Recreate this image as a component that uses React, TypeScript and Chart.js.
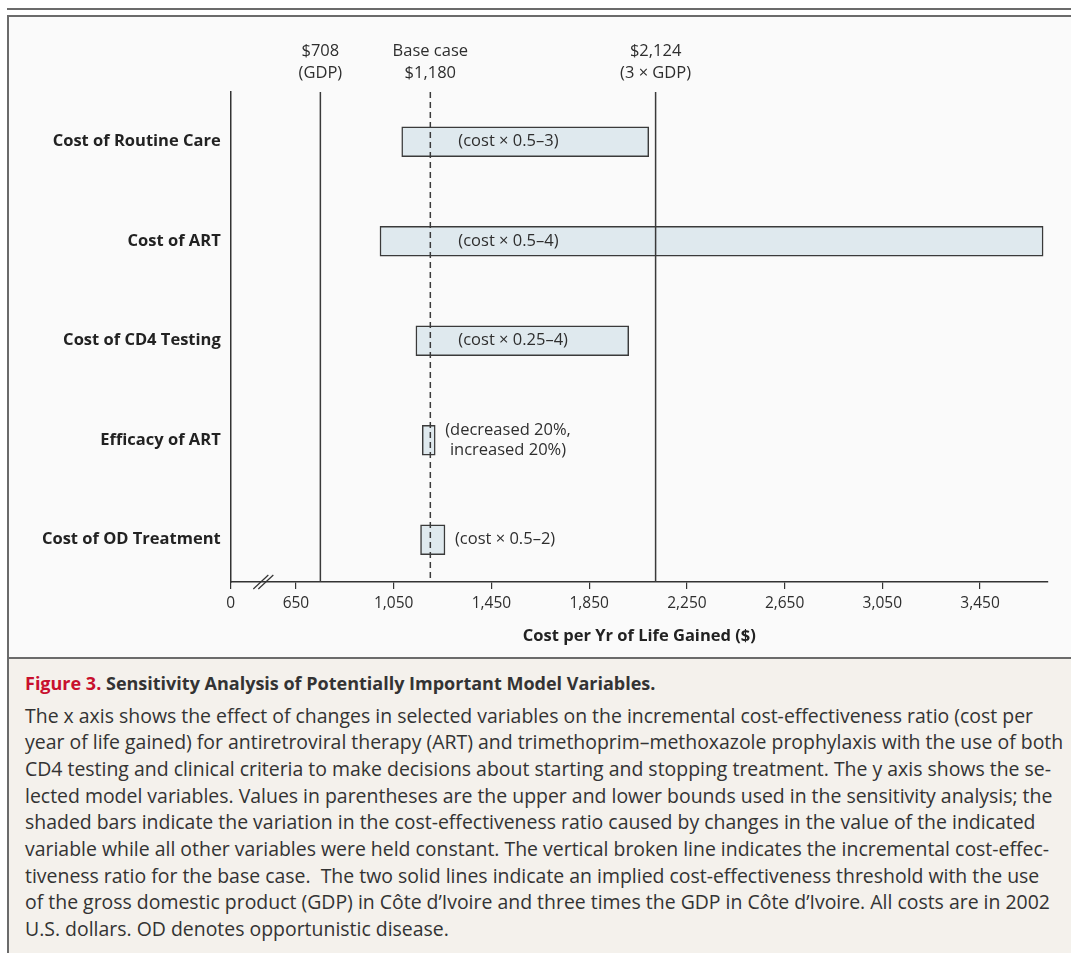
import React, { useEffect, useRef } from 'react';
import { Chart, registerables, LinearScale } from 'chart.js';

// ---------- data ----------
const categories = [
  'Cost of Routine Care',
  'Cost of ART',
  'Cost of CD4 Testing',
  'Efficacy of ART',
  'Cost of OD Treatment',
];
// range of the cost-effectiveness ratio ($ per yr of life gained)
const lowerBounds = [1083, 994, 1141, 1167, 1160];
const upperBounds = [2094, 3708, 2012, 1220, 1260];
const rangeNotes = [
  ['(cost × 0.5–3)'],
  ['(cost × 0.5–4)'],
  ['(cost × 0.25–4)'],
  ['(decreased 20%,', 'increased 20%)'],
  ['(cost × 0.5–2)'],
];
const xTickValues = [0, 650, 1050, 1450, 1850, 2250, 2650, 3050, 3450];
// vertical reference lines (positions as drawn in the figure)
const referenceValues = [750, 1200, 2122];
const referenceKinds = ['threshold', 'base', 'threshold'];
const referenceLabels = [
  ['$708', '(GDP)'],
  ['Base case', '$1,180'],
  ['$2,124', '(3 × GDP)'],
];
const xAxisTitle = 'Cost per Yr of Life Gained ($)';
const captionTitle = 'Figure 3.';
const captionHeading = 'Sensitivity Analysis of Potentially Important Model Variables.';
const captionLines = [
  'The x axis shows the effect of changes in selected variables on the incremental cost-effectiveness ratio (cost per',
  'year of life gained) for antiretroviral therapy (ART) and trimethoprim–methoxazole prophylaxis with the use of both',
  'CD4 testing and clinical criteria to make decisions about starting and stopping treatment. The y axis shows the se-',
  'lected model variables. Values in parentheses are the upper and lower bounds used in the sensitivity analysis; the',
  'shaded bars indicate the variation in the cost-effectiveness ratio caused by changes in the value of the indicated',
  'variable while all other variables were held constant. The vertical broken line indicates the incremental cost-effec-',
  'tiveness ratio for the base case.  The two solid lines indicate an implied cost-effectiveness threshold with the use',
  'of the gross domestic product (GDP) in Côte d’Ivoire and three times the GDP in Côte d’Ivoire. All costs are in 2002',
  'U.S. dollars. OD denotes opportunistic disease.',
];

// ---------- broken x axis (0 … //… 650 … ) ----------
const BREAK_END = 650;
const BREAK_SPAN = 267; // width of the 0–650 segment, in units of the linear part
const X_MAX = 3728;

function toVirtual(v: number) {
  return v >= BREAK_END ? v : BREAK_END - (BREAK_SPAN * (BREAK_END - v)) / BREAK_END;
}
function fromVirtual(w: number) {
  return w >= BREAK_END ? w : BREAK_END - ((BREAK_END - w) * BREAK_END) / BREAK_SPAN;
}

class BrokenLinearScale extends LinearScale {
  static id = 'brokenLinear';
  static defaults = LinearScale.defaults;
  getPixelForValue(value: any) {
    if (value === null || value === undefined || isNaN(value)) return NaN;
    const a = toVirtual(this.min);
    const b = toVirtual(this.max);
    return this.getPixelForDecimal((toVirtual(value) - a) / (b - a));
  }
  getValueForPixel(pixel: number) {
    const a = toVirtual(this.min);
    const b = toVirtual(this.max);
    return fromVirtual(a + this.getDecimalForPixel(pixel) * (b - a));
  }
}

Chart.register(...registerables, BrokenLinearScale);

const FONT = "'Open Sans'";
const INK = '#2e2e2e';

const overlayPlugin = {
  id: 'overlay',
  afterDatasetsDraw(chart: any) {
    const { ctx, chartArea } = chart;
    const x = chart.scales.x;
    const y = chart.scales.y;
    ctx.save();

    // reference lines + their labels
    referenceValues.forEach((v, i) => {
      const px = x.getPixelForValue(v);
      ctx.beginPath();
      ctx.strokeStyle = '#3a3a3a';
      ctx.lineWidth = 1.5;
      ctx.setLineDash(referenceKinds[i] === 'base' ? [6, 4] : []);
      ctx.moveTo(px, chartArea.top);
      ctx.lineTo(px, chartArea.bottom);
      ctx.stroke();
      ctx.setLineDash([]);
      ctx.fillStyle = INK;
      ctx.font = `16.5px ${FONT}`;
      ctx.textAlign = 'center';
      ctx.textBaseline = 'middle';
      referenceLabels[i].forEach((t, j) => {
        ctx.fillText(t, px, chartArea.top - 41 + j * 22);
      });
    });

    // range notes
    const basePx = x.getPixelForValue(referenceValues[1]);
    ctx.font = `16.5px ${FONT}`;
    ctx.fillStyle = INK;
    ctx.textBaseline = 'middle';
    rangeNotes.forEach((lines, i) => {
      const endPx = x.getPixelForValue(upperBounds[i]);
      const left = endPx > basePx + 60 ? basePx + 28 : endPx + 10;
      const cy = y.getPixelForValue(i);
      const w0 = ctx.measureText(lines[0]).width;
      ctx.textAlign = 'center';
      lines.forEach((t, j) => {
        ctx.fillText(t, left + w0 / 2, cy + (j - (lines.length - 1) / 2) * 20);
      });
    });

    // axis break marks
    const p0 = x.getPixelForValue(0);
    const p1 = x.getPixelForValue(BREAK_END);
    const cx = (p0 + p1) / 2;
    const ay = chartArea.bottom;
    ctx.strokeStyle = '#333';
    ctx.lineWidth = 1.2;
    [-2.5, 2.5].forEach((d) => {
      ctx.beginPath();
      ctx.moveTo(cx + d - 7.5, ay + 7);
      ctx.lineTo(cx + d + 7.5, ay - 7);
      ctx.stroke();
    });
    ctx.restore();
  },
};

function SensitivityChart() {
  const ref = useRef<HTMLCanvasElement | null>(null);
  useEffect(() => {
    if (!ref.current) return;
    const chart = new Chart(ref.current, {
      type: 'bar',
      data: {
        datasets: [
          {
            data: categories.map((_, i) => ({ x: [lowerBounds[i], upperBounds[i]], y: i })) as any,
            backgroundColor: '#dfe9ee',
            borderColor: '#3a3a3a',
            borderWidth: 1.5,
            borderSkipped: false,
            barThickness: 30,
          },
        ],
      },
      options: {
        indexAxis: 'y',
        animation: false,
        responsive: false,
        devicePixelRatio: 1,
        layout: { padding: { top: 75, right: 23, left: 0, bottom: 0 } },
        plugins: { legend: { display: false }, tooltip: { enabled: false } },
        scales: {
          x: {
            type: 'brokenLinear' as any,
            min: 0,
            max: X_MAX,
            bounds: 'data',
            offset: false,
            afterBuildTicks: (s: any) => {
              s.ticks = xTickValues.map((v) => ({ value: v }));
            },
            ticks: {
              callback: (v: any) => Number(v).toLocaleString('en-US'),
              autoSkip: false,
              maxRotation: 0,
              font: { family: FONT, size: 15.5 },
              color: INK,
              padding: 5,
            },
            grid: { drawOnChartArea: false, drawTicks: true, tickLength: 7, color: '#333', lineWidth: 1.2 },
            border: { display: true, color: '#333', width: 1.5 },
            title: {
              display: true,
              text: xAxisTitle,
              font: { family: FONT, size: 16.5, weight: 'bold' },
              color: '#222',
              padding: { top: 4, bottom: 12 },
            },
            afterFit: (s: any) => {
              s.height = 76;
            },
          } as any,
          y: {
            type: 'linear',
            reverse: true,
            min: -0.5,
            max: 4.425,
            bounds: 'data',
            offset: false,
            afterBuildTicks: (s: any) => {
              s.ticks = categories.map((_, i) => ({ value: i }));
            },
            ticks: {
              callback: (v: any) => categories[v],
              autoSkip: false,
              font: { family: FONT, size: 16.5, weight: 'bold' },
              color: '#222',
              padding: 10,
            },
            grid: { drawOnChartArea: false, drawTicks: false, offset: false },
            border: { display: true, color: '#333', width: 1.5 },
            afterFit: (s: any) => {
              s.width = 221.7;
            },
          } as any,
        },
      } as any,
      plugins: [overlayPlugin],
    });
    return () => chart.destroy();
  }, []);
  return <canvas ref={ref} width={1062} height={641} style={{ width: 1062, height: 641, display: 'block' }} />;
}

export default function App() {
  const gray = '#6b6b6b';
  return (
    <div style={{ position: 'absolute', left: 0, top: 0, width: 1071, height: 953, overflow: 'hidden', background: '#fff' }}>
      <div style={{ position: 'absolute', left: 7, top: 8, right: 0, height: 2, background: gray }} />
      <div
        style={{
          position: 'absolute',
          left: 7,
          top: 15,
          width: 1064,
          height: 938,
          borderLeft: `2px solid ${gray}`,
          borderTop: `2px solid ${gray}`,
          background: '#fafafa',
          boxSizing: 'border-box',
        }}
      />
      <div style={{ position: 'absolute', left: 9, top: 17 }}>
        <SensitivityChart />
      </div>
      <div
        style={{
          position: 'absolute',
          left: 9,
          top: 657,
          width: 1062,
          height: 296,
          borderTop: `2px solid ${gray}`,
          background: '#f4f1ec',
          boxSizing: 'border-box',
          fontFamily: FONT,
          color: '#333',
          padding: '11px 0 0 16px',
          overflow: 'hidden',
        }}
      >
        <div style={{ fontWeight: 'bold', fontSize: 18, lineHeight: '26.67px', whiteSpace: 'pre', marginBottom: 6 }}>
          <span style={{ color: '#c8102e' }}>{captionTitle}</span> {captionHeading}
        </div>
        {captionLines.map((l, i) => (
          <div key={i} style={{ fontSize: 19.45, lineHeight: '26.67px', whiteSpace: 'pre' }}>
            {l}
          </div>
        ))}
      </div>
    </div>
  );
}
